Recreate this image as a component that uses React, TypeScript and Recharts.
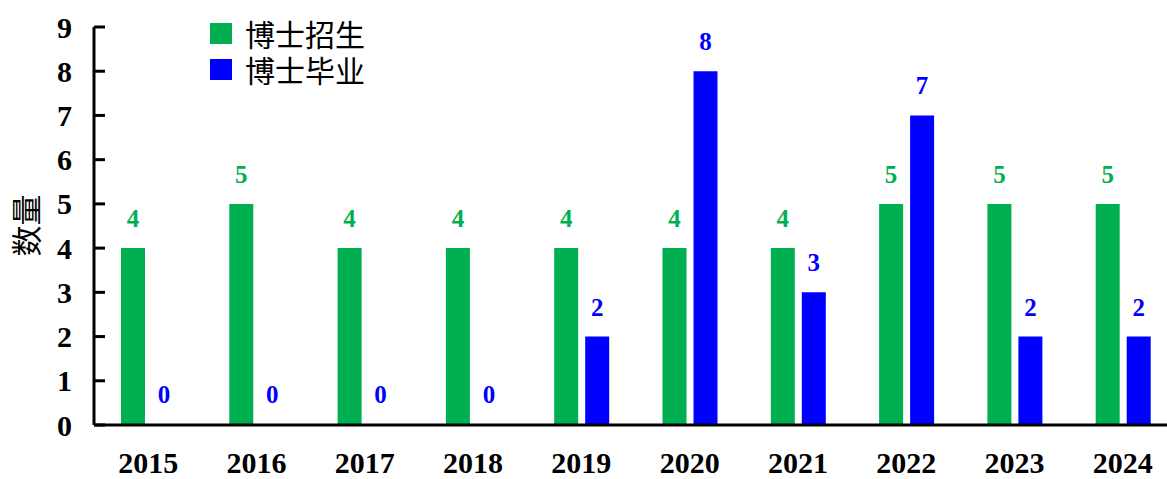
import React from 'react';
import { BarChart, Bar, XAxis, YAxis, LabelList } from 'recharts';

const years = ['2015', '2016', '2017', '2018', '2019', '2020', '2021', '2022', '2023', '2024'];
const enrollment = [4, 5, 4, 4, 4, 4, 4, 5, 5, 5];
const graduation = [0, 0, 0, 0, 2, 8, 3, 7, 2, 2];
const yTicks = [0, 1, 2, 3, 4, 5, 6, 7, 8, 9];

const GREEN = '#00B050';
const BLUE = '#0000FF';
const SERIF = '"Liberation Serif", "Times New Roman", serif';
const CJK = '"Noto Sans CJK SC", sans-serif';

const data = years.map((y, i) => ({ year: y, enroll: enrollment[i], grad: graduation[i] }));

const YTick = (props: any) => {
  const { x, y, payload } = props;
  return (
    <g>
      <line x1={x} y1={y} x2={x + 11} y2={y} stroke="#000" strokeWidth={3} />
      <text x={x - 22} y={y} dy="0.35em" textAnchor="end" fontFamily={SERIF} fontWeight="bold" fontSize={30} fill="#000">
        {payload.value}
      </text>
    </g>
  );
};

const XTick = (props: any) => {
  const { x, y, payload } = props;
  return (
    <text x={x} y={y + 40} textAnchor="middle" fontFamily={SERIF} fontWeight="bold" fontSize={30} fill="#000">
      {payload.value}
    </text>
  );
};

const makeLabel = (color: string) => (props: any) => {
  const { x, y, width, height, value } = props;
  const top = Math.min(Number(y), Number(y) + Number(height));
  return (
    <text
      x={Number(x) + Number(width) / 2}
      y={top - 21}
      textAnchor="middle"
      fontFamily={SERIF}
      fontWeight="bold"
      fontSize={25}
      fill={color}
    >
      {value}
    </text>
  );
};

export default function App() {
  return (
    <div style={{ position: 'absolute', left: 0, top: 0, width: 1167, height: 479, background: '#fff', overflow: 'hidden' }}>
      <BarChart
        width={1177}
        height={479}
        data={data}
        margin={{ top: 27, right: 0, bottom: 0, left: 0 }}
        barSize={24}
        barGap={7}
      >
        <XAxis
          dataKey="year"
          axisLine={{ stroke: '#000', strokeWidth: 3 }}
          tickLine={false}
          tick={<XTick />}
          interval={0}
          height={54}
        />
        <YAxis
          domain={[0, 9]}
          ticks={yTicks}
          width={94}
          axisLine={{ stroke: '#000', strokeWidth: 3 }}
          tickLine={false}
          tickSize={0}
          tickMargin={0}
          tick={<YTick />}
          interval={0}
        />
        <Bar dataKey="enroll" fill={GREEN} isAnimationActive={false} minPointSize={1}>
          <LabelList dataKey="enroll" content={makeLabel(GREEN)} />
        </Bar>
        <Bar dataKey="grad" fill={BLUE} isAnimationActive={false} minPointSize={1}>
          <LabelList dataKey="grad" content={makeLabel(BLUE)} />
        </Bar>
      </BarChart>
      <div style={{ position: 'absolute', left: 0, top: 225, width: 48, height: 0, display: 'flex', alignItems: 'center', justifyContent: 'center' }}>
        <span style={{ display: 'inline-block', transform: 'rotate(-90deg)', fontFamily: CJK, fontSize: 31, color: '#000', lineHeight: 1, whiteSpace: 'nowrap' }}>数量</span>
      </div>
      <div style={{ position: 'absolute', left: 210, top: 15, fontFamily: CJK, fontSize: 30, color: '#000', lineHeight: '36px' }}>
        <div style={{ display: 'flex', alignItems: 'center' }}>
          <span style={{ display: 'inline-block', width: 22, height: 21, background: GREEN, marginRight: 13 }} />
          <span>博士招生</span>
        </div>
        <div style={{ display: 'flex', alignItems: 'center' }}>
          <span style={{ display: 'inline-block', width: 22, height: 21, background: BLUE, marginRight: 13 }} />
          <span>博士毕业</span>
        </div>
      </div>
    </div>
  );
}
